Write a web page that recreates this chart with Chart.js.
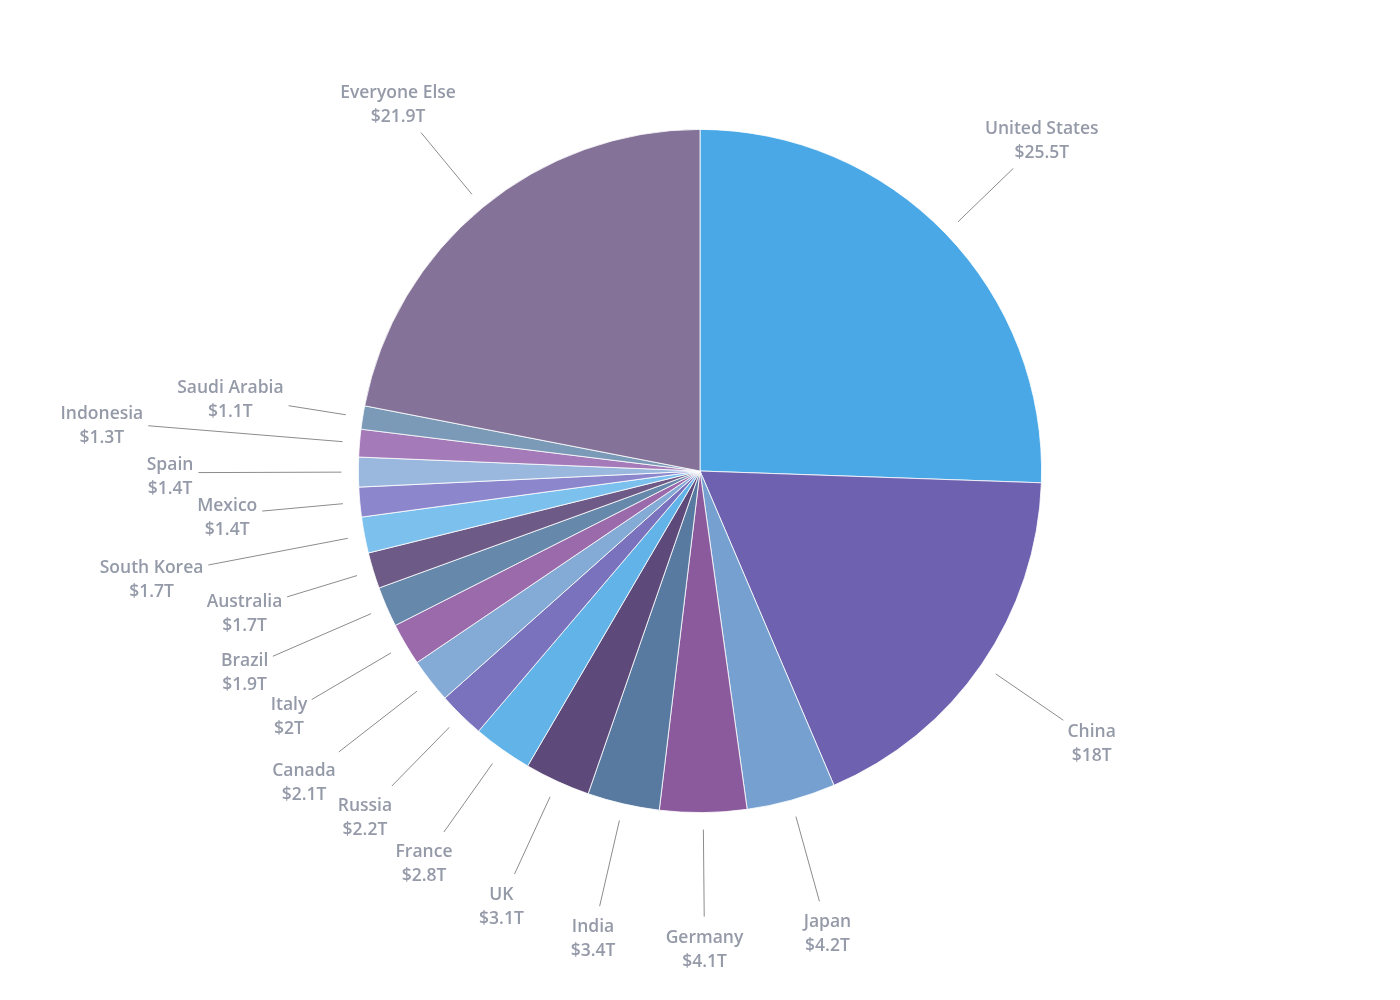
<!DOCTYPE html>
<html>
<head>
<meta charset="utf-8">
<script src="https://cdn.jsdelivr.net/npm/chart.js@4.4.0/dist/chart.umd.min.js"></script>
<style>
  body { margin: 0; background: #fff; }
  #wrap { width: 1400px; height: 1000px; position: relative; }
</style>
</head>
<body>
<div id="wrap"><canvas id="gdpChart"></canvas></div>
<script>
var countries = ["United States", "China", "Japan", "Germany", "India", "UK", "France", "Russia", "Canada",
    "Italy", "Brazil", "Australia", "South Korea", "Mexico", "Spain", "Indonesia", "Saudi Arabia", "Everyone Else"];
var gdp = [25.5, 18, 4.2, 4.1, 3.4, 3.1, 2.8, 2.2, 2.1, 2, 1.9, 1.7, 1.7, 1.4, 1.4, 1.3, 1.1, 21.9];
var valueLabels = ["$25.5T", "$18T", "$4.2T", "$4.1T", "$3.4T", "$3.1T", "$2.8T", "$2.2T", "$2.1T",
    "$2T", "$1.9T", "$1.7T", "$1.7T", "$1.4T", "$1.4T", "$1.3T", "$1.1T", "$21.9T"];
var sliceColors = ["#4aa8e6", "#6e62b0", "#76a0d0", "#8a5a9c", "#587aa0", "#5e4a7a", "#62b4e8", "#7a72bc", "#84aad6",
    "#9a6aaa", "#6688aa", "#6e5a86", "#7cc0ee", "#8c86cc", "#9ab8de", "#a47ab8", "#7a9ab8", "#847298"];
// how far past the pie edge each leader line reaches
var leaderLength = [94, 99, 105, 104, 105, 102, 101, 99, 116, 109, 124, 90, 159, 98, 160, 212, 75, 97];

var outsideLabels = {
    id: 'outsideLabels',
    afterDatasetsDraw: function(chart) {
        var c = chart.ctx;
        var arcs = chart.getDatasetMeta(0).data;
        c.save();
        c.font = '600 17.5px "Open Sans"';
        c.textAlign = 'center';
        c.textBaseline = 'middle';
        arcs.forEach(function(arc, i) {
            var mid = (arc.startAngle + arc.endAngle) / 2;
            var dx = Math.cos(mid), dy = Math.sin(mid);
            var r = arc.outerRadius;
            var x1 = arc.x + dx * (r + 17), y1 = arc.y + dy * (r + 17);
            var x2 = arc.x + dx * (r + leaderLength[i]), y2 = arc.y + dy * (r + leaderLength[i]);
            c.strokeStyle = '#8c8c8c';
            c.lineWidth = 1;
            c.beginPath();
            c.moveTo(x1, y1);
            c.lineTo(x2, y2);
            c.stroke();

            var w = Math.max(c.measureText(countries[i]).width, c.measureText(valueLabels[i]).width);
            var hw = w / 2, hh = 24;
            var d = Math.min(Math.abs(dx) > 0.001 ? hw / Math.abs(dx) : 1e9,
                             Math.abs(dy) > 0.001 ? hh / Math.abs(dy) : 1e9) + 5;
            var cx = x2 + dx * d, cy = y2 + dy * d;
            if (dy > -0.5) cy += 4;
            c.fillStyle = '#959aa8';
            c.fillText(countries[i], cx, cy - 12);
            c.fillText(valueLabels[i], cx, cy + 12);
        });
        c.restore();
    }
};

var ctx = document.getElementById('gdpChart');
var gdpChart = new Chart(ctx, {
    type: 'pie',
    data: {
        labels: countries,
        datasets: [{
            data: gdp,
            backgroundColor: sliceColors,
            borderColor: '#ffffff',
            borderWidth: 0.8
        }]
    },
    options: {
        responsive: true,
        maintainAspectRatio: false,
        animation: false,
        layout: { padding: { top: 129, bottom: 187, left: 0, right: 0 } },
        plugins: {
            legend: { display: false },
            tooltip: { enabled: false }
        }
    },
    plugins: [outsideLabels]
});
</script>
</body>
</html>
